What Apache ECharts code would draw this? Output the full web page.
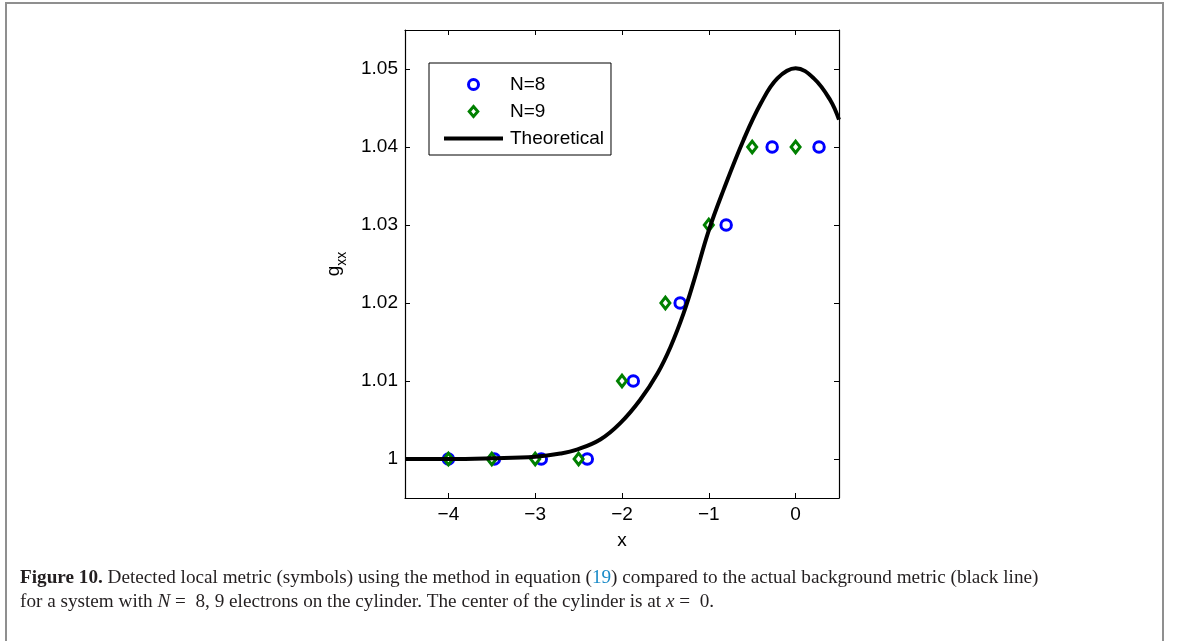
<!DOCTYPE html>
<html>
<head>
<meta charset="utf-8">
<script src="https://cdn.jsdelivr.net/npm/echarts@6/dist/echarts.min.js"></script>
<style>
html,body{margin:0;padding:0;background:#fff;}
#main{width:1179px;height:641px;}
</style>
</head>
<body>
<div id="main"></div>
<script>
// N=8 circles
var n8X = [-4, -3.47, -2.93, -2.4, -1.87, -1.33, -0.8, -0.27, 0.27];
var n8Y = [1, 1, 1, 1, 1.01, 1.02, 1.03, 1.04, 1.04];
// N=9 diamonds
var n9X = [-4, -3.5, -3, -2.5, -2, -1.5, -1, -0.5, 0];
var n9Y = [1, 1, 1, 1, 1.01, 1.02, 1.03, 1.04, 1.04];
// theoretical curve, points
var theoX = [-4.5, -4, -3.5, -3, -2.71, -2.52, -2.25, -2.02, -1.79, -1.59, -1.44, -1.29, -1.17, -1.0, -0.83, -0.6, -0.4, -0.21, 0, 0.21, 0.4, 0.5];
var theoY = [1, 1, 1.0001, 1.0003, 1.0007, 1.0012, 1.0025, 1.0046, 1.0076, 1.011, 1.0144, 1.0187, 1.0229, 1.0293, 1.0345, 1.0409, 1.0456, 1.0488, 1.0501, 1.0488, 1.046, 1.0435];
var xTicks = [-4, -3, -2, -1, 0];
var yTicks = [1, 1.01, 1.02, 1.03, 1.04, 1.05];

function pairs(xs, ys){
	var out = [];
	for (var i = 0; i < xs.length; i++) out.push([xs[i], ys[i]]);
	return out;
}

var chart = echarts.init(document.getElementById('main'));
var fnt = '"Liberation Sans", Arial, sans-serif';
var serif = '"Liberation Serif", "DejaVu Serif", serif';

function xAxisCfg(pos, labels){
	return {
		type: 'value', position: pos, min: -4.5, max: 0.5,
		axisLine: {show: true, onZero: false, lineStyle: {color: '#000', width: 1.2}},
		axisTick: {show: true, inside: true, length: 5, customValues: xTicks, lineStyle: {color: '#000'}},
		axisLabel: {show: labels, customValues: xTicks, margin: 7, color: '#000', fontSize: 19, fontFamily: fnt,
			formatter: function(v){ return v < 0 ? '\u2212' + Math.abs(v) : String(v); }},
		splitLine: {show: false},
		name: labels ? 'x' : '', nameLocation: 'middle', nameGap: 33,
		nameTextStyle: {color: '#000', fontSize: 19, fontFamily: fnt}
	};
}
function yAxisCfg(pos, labels){
	return {
		type: 'value', position: pos, min: 0.995, max: 1.055,
		axisLine: {show: true, onZero: false, lineStyle: {color: '#000', width: 1.2}},
		axisTick: {show: true, inside: true, length: 5, customValues: yTicks, lineStyle: {color: '#000'}},
		axisLabel: {show: labels, customValues: yTicks, margin: 7, color: '#000', fontSize: 19, fontFamily: fnt,
			formatter: function(v){ return Math.abs(v - 1) < 1e-9 ? '1' : v.toFixed(2); }},
		splitLine: {show: false},
		name: labels ? '{g|g}{s|xx}' : '', nameLocation: 'middle', nameGap: 62, nameRotate: 90,
		nameTextStyle: {color: '#000', fontSize: 19, fontFamily: fnt,
			rich: {g: {fontSize: 19, fontFamily: fnt, color: '#000'},
				s: {fontSize: 14, fontFamily: fnt, color: '#000', verticalAlign: 'bottom', padding: [0, 0, -6, 0]}}}
	};
}

var option = {
	animation: false,
	backgroundColor: '#fff',
	grid: {left: 405, top: 30, width: 434, height: 468, containLabel: false},
	xAxis: [xAxisCfg('bottom', true), xAxisCfg('top', false)],
	yAxis: [yAxisCfg('left', true), yAxisCfg('right', false)],
	legend: {
		orient: 'vertical', left: 429, top: 63,
		padding: [12, 7, 7, 13], itemGap: 8,
		itemWidth: 59, itemHeight: 10, symbolKeepAspect: true,
		borderColor: '#000', borderWidth: 1, borderRadius: 0,
		textStyle: {color: '#000', fontSize: 19, fontFamily: fnt, padding: [0, 0, 0, 2]},
		data: [
			{name: 'N=8', itemStyle: {borderWidth: 3}},
			{name: 'N=9', icon: 'path://M0,-7L6,0L0,7L-6,0Z', itemStyle: {borderWidth: 3}},
			{name: 'Theoretical', itemStyle: {opacity: 0}, lineStyle: {width: 4, color: '#000'}}
		]
	},
	graphic: [{
		type: 'rect', silent: true,
		shape: {x: 6, y: 3, width: 1157, height: 660},
		style: {fill: 'none', stroke: '#8f8f8f', lineWidth: 2}
	}, {
		type: 'text', left: 20, top: 566, silent: true,
		style: {
			text: '{b|Figure 10.} Detected local metric (symbols) using the method in equation ({l|19}) compared to the actual background metric (black line)\n' +
				'for a system with {i|N} =  8, 9 electrons on the cylinder. The center of the cylinder is at {i|x} =  0.',
			fontSize: 19.2, fontFamily: serif, fill: '#231f20', lineHeight: 24,
			rich: {
				b: {fontWeight: 'bold', fontSize: 19.2, fontFamily: serif, fill: '#231f20', lineHeight: 24},
				l: {fontSize: 19.2, fontFamily: serif, fill: '#1a8bc8', lineHeight: 24},
				i: {fontStyle: 'italic', fontSize: 19.2, fontFamily: serif, fill: '#231f20', lineHeight: 24}
			}
		}
	}],
	series: [{
		name: 'N=8', type: 'scatter', symbol: 'circle', symbolSize: 10.5,
		itemStyle: {color: '#fff', borderColor: '#0000ff', borderWidth: 3, opacity: 1},
		data: pairs(n8X, n8Y)
	}, {
		name: 'N=9', type: 'scatter', symbol: 'diamond', symbolSize: [9, 11.5],
		itemStyle: {color: '#fff', borderColor: '#008000', borderWidth: 3, opacity: 1},
		data: pairs(n9X, n9Y)
	}, {
		name: 'Theoretical', type: 'line', smooth: 0.4, showSymbol: false,
		lineStyle: {color: '#000', width: 4}, itemStyle: {color: '#000'},
		data: pairs(theoX, theoY)
	}]
};
chart.setOption(option);
</script>
</body>
</html>
